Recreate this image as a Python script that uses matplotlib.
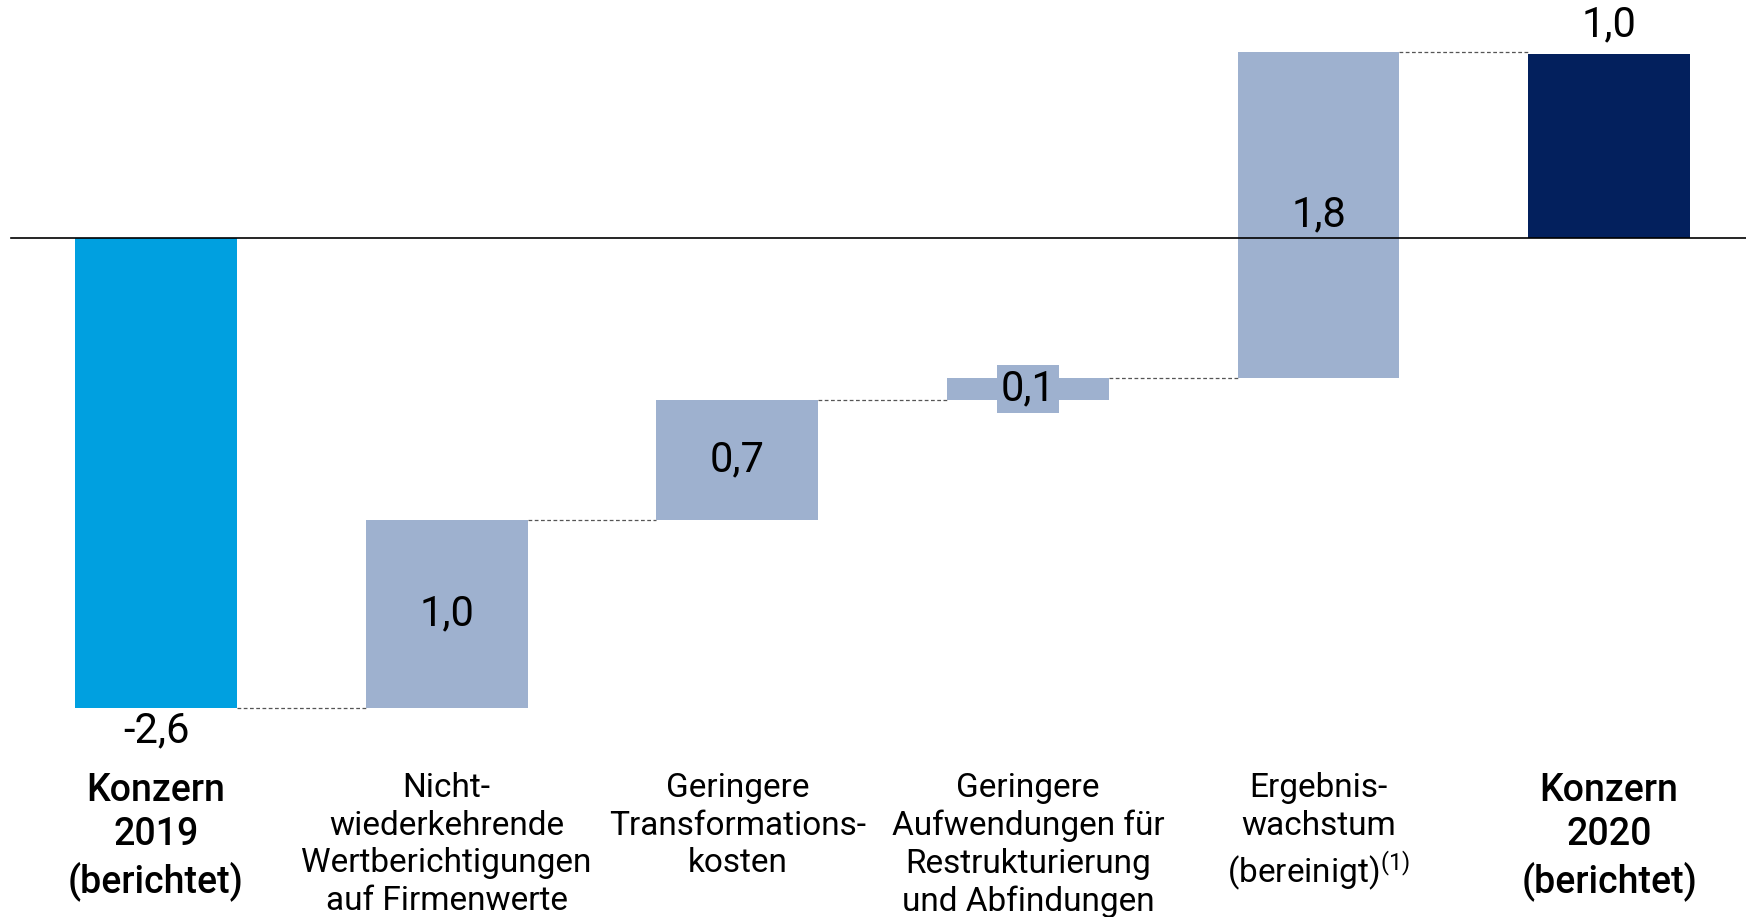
"""Waterfall: Konzern 2019 -> Konzern 2020 (berichtet)."""

import matplotlib

matplotlib.use("Agg")
import matplotlib.pyplot as plt

plt.rcParams["font.family"] = ["Roboto", "DejaVu Sans"]
plt.rcParams["mathtext.default"] = "regular"

# ── data ──
categories = [
    "Konzern\n2019\n(berichtet)",
    "Nicht-\nwiederkehrende\nWertberichtigungen\nauf Firmenwerte",
    "Geringere\nTransformations-\nkosten",
    "Geringere\nAufwendungen für\nRestrukturierung\nund Abfindungen",
    "Ergebnis-\nwachstum\n(bereinigt)$^{(1)}$",
    "Konzern\n2020\n(berichtet)",
]
start_value = -2.58
deltas = [1.03, 0.66, 0.12, 1.79]
end_value = 1.01
value_labels = ["-2,6", "1,0", "0,7", "0,1", "1,8", "1,0"]

C_START = "#00A0E0"
C_DELTA = "#9EB1CF"
C_END = "#03205D"

fig = plt.figure(figsize=(17.46, 9.17), dpi=100)
ax = fig.add_axes([0, 0, 1, 1])
ax.set_xlim(-0.537, 5.471)
ax.set_ylim(-3.731, 1.308)
ax.axis("off")

W = 0.557
xs = list(range(len(categories)))

# bars
bottoms = [min(start_value, 0)]
heights = [abs(start_value)]
colors = [C_START]
level = start_value
levels = [level]
for d in deltas:
    bottoms.append(level)
    heights.append(d)
    colors.append(C_DELTA)
    level += d
    levels.append(level)
bottoms.append(0)
heights.append(end_value)
colors.append(C_END)
levels.append(end_value)

ax.bar(xs, heights, bottom=bottoms, width=W, color=colors, linewidth=0, zorder=2)

# zero line
ax.axhline(0, xmin=11 / 1746, xmax=1, color="black", linewidth=1.2, zorder=3)

# connectors
for i in range(len(xs) - 1):
    ax.plot([xs[i] + W / 2, xs[i + 1] - W / 2], [levels[i], levels[i]],
            color="#555555", linestyle=(0, (3, 2)), linewidth=0.9, zorder=1)

# value labels
FS_VAL = 30
ax.annotate(value_labels[0], (xs[0], start_value), xytext=(0, -17), textcoords="offset points",
            ha="center", va="center", fontsize=FS_VAL)
for i in range(1, 5):
    mid = bottoms[i] + heights[i] / 2
    bbox = None
    if i == 3:
        bbox = dict(facecolor=C_DELTA, edgecolor="none", pad=2.5)
    ax.text(xs[i], mid, value_labels[i], ha="center", va="center", fontsize=FS_VAL, bbox=bbox, zorder=4)
ax.annotate(value_labels[5], (xs[5], end_value), xytext=(0, 21), textcoords="offset points",
            ha="center", va="center", fontsize=FS_VAL)

# category labels
tr = ax.get_xaxis_transform()
for i, lab in enumerate(categories):
    bold = i in (0, 5)
    ax.text(xs[i], 0.158, lab, transform=tr, ha="center", va="top",
            fontsize=27 if bold else 24, fontweight="medium" if bold else "normal",
            linespacing=1.25 if bold else 1.22)

plt.savefig("out.png", dpi=100)
